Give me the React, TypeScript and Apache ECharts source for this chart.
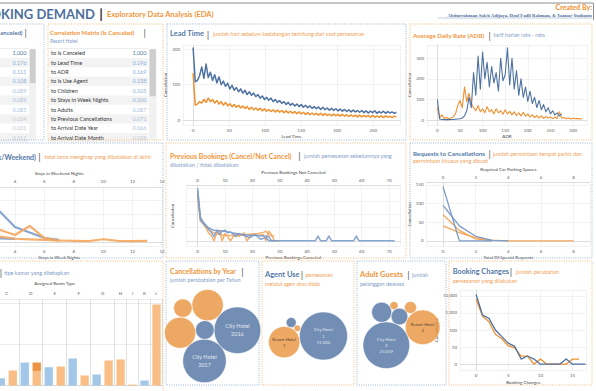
import React, { useEffect, useRef } from "react";
import * as echarts from "echarts";

// ---------------- DATA ----------------
const corrFeatures = [
  "to Is Canceled", "to Lead Time", "to ADR", "to Is Use Agent", "to Children",
  "to Stays in Week Nights", "to Adults", "to Previous Cancellations",
  "to Arrival Date Year", "to Arrival Date Month",
];
const corrResort = [1.0, 0.196, 0.169, 0.138, 0.105, 0.1, 0.087, 0.071, 0.066, 0.028];
const corrCity = [1.0, 0.176, 0.111, 0.108, 0.089, 0.089, 0.085, 0.034, 0.031, 0.011];

// Lead time (every 3 days from 0)
const LEAD_STEP = 3;
const leadCity = [205,108,112,125,150,118,158,120,135,112,128,105,122,100,110,95,104,88,98,84,92,80,88,76,84,72,80,70,76,66,72,62,68,58,64,56,62,52,58,50,55,47,52,44,50,42,47,40,45,38,44,36,42,35,40,33,38,32,37,30,36,29,34,28,33,27,32,26,31,25,30,24,29,23,28,23,27,22,27,21,26,20,25,21,26,19,24,20,25,19,24,20,23,19,22];
const leadResort = [132,42,45,52,48,58,50,62,52,58,48,55,45,52,42,50,40,46,38,44,36,42,34,40,33,38,30,36,29,34,28,33,26,32,25,30,24,29,23,28,22,27,21,26,20,25,19,24,18,23,17,22,16,21,15,20,15,19,14,19,13,18,13,17,12,17,12,16,11,16,11,15,10,15,10,14,9,14,9,13,9,13,8,13,8,12,8,12,7,12,8,11,7,11,9];

// ADR (every 5 units from 0)
const ADR_STEP = 5;
const adrCity = [100,5,3,2,2,2,3,3,4,5,6,10,20,45,110,60,230,120,310,150,330,200,280,160,260,180,230,140,300,190,220,350,170,300,150,240,120,200,110,160,90,140,80,110,60,95,50,75,40,60,30,45,25,35,20,30];
const adrResort = [60,10,25,8,12,6,10,15,30,70,95,60,160,90,130,80,60,45,70,40,55,35,65,40,50,30,55,35,45,28,50,30,42,25,40,22,35,20,38,18,30,15,25,12,22,10,20,8,18,10,15,7,14,8,40,10,12,6,10,5,9,6,8,5,7];

// Stays (index = number of nights)
const staysWeekCity = [3.9, 3.4, 2.8, 2.18, 1.09, 0.68, 0.28, 0.14];
const staysWeekResort = [2.0, 1.6, 1.2, 0.87, 0.5, 1.16, 0.28, 0.07];
const staysWeekendCity = [1.4, 0.9, 0.5, 0.26, 0.22];
const staysWeekendResort = [1.2, 0.9, 0.6, 0.38, 0.23, 0.18, 0.14, 0.1, 0.07, 0.06, 0.19, 0.07, 0.05, 0.07];

// Previous bookings [count, cancellations]
const prevCanceledCity = [[0,100],[1,45],[2,36],[3,30],[4,22],[5,16],[6,8],[7,20],[8,12],[9,18],[10,20],[11,15],[12,17],[14,8],[15,14],[17,10],[19,6],[21,12],[23,3],[25,6],[26,0],[30,0],[43,0],[44,9],[45,0],[47,0],[48,9],[49,0],[57,0],[58,9],[59,0],[72,0]];
const prevNotCanceledCity = [[0,95],[1,40],[2,33],[3,28],[4,25],[5,22],[6,20],[8,19],[10,18],[12,16],[14,14],[16,12],[18,11],[20,10],[22,10],[24,9],[26,8],[27,0],[28,0]];
const prevCanceledResort = [[0,88],[1,38],[2,32],[3,25],[4,15],[5,10],[6,0],[7,15],[8,20],[9,0],[10,14],[11,8],[12,0],[14,14],[15,8],[17,15],[18,0],[20,12],[22,10],[24,12],[25,0],[26,18],[27,12],[28,0],[30,0]];
const prevNotCanceledResort = [[0,85],[1,42],[2,35],[3,28],[4,22],[5,18],[6,15],[8,12],[10,10],[12,10],[14,10],[16,11],[18,12],[20,13],[22,14],[24,16],[25,18],[26,12],[27,9],[28,9]];

// Requests (index = count)
const parkingCity = [145, 0, 0, 0];
const parkingResort = [70, 28, 5, 0];
const specialCity = [95, 40, 12, 1, 0];
const specialResort = [40, 22, 8, 2, 0, 0, 0, 0, 0];

// Assigned room type
const roomTypes = ["A", "B", "C", "D", "E", "F", "G", "H", "I", "K", "L"];
const roomCity = [4200, 900, 178, 561, 446, 659, 268, null, null, 122, null];
const roomResort = [3800, 700, 366, 349, 463, 244, 610, 634, 24, null, 1976];
const roomResortTop = [0, 0, 0, 212, 0, 0, 0, 0, 0, 0, 0];

// Cancellations by year
const yearHotel = ["City Hotel", "City Hotel", "City Hotel", "Resort Hotel", "Resort Hotel", "Resort Hotel"];
const yearYear = [2016, 2017, 2015, 2016, 2017, 2015];
const yearCancel = [15400, 13350, 2450, 7000, 6900, 2400];

// Agent use
const agentHotel = ["City Hotel", "Resort Hotel", "Resort Hotel", "City Hotel"];
const agentUse = [0, 0, 1, 1];
const agentCancel = [1350, 590, 13300, 31000];

// Adult guests
const adultHotel = ["City Hotel", "City Hotel", "City Hotel", "Resort Hotel", "Resort Hotel", "Resort Hotel"];
const adultCount = [2, 1, 3, 2, 1, 3];
const adultCancel = [23059, 4240, 2930, 12700, 1520, 680];

// Booking changes (index = number of changes)
const bookCity = [12000, 750, 480, 100, 40, 16, 10, 1, 2, 1, 0, 0, 0, 0, 1, 0, 0, 0];
const bookResort = [6300, 650, 300, 55, 30, 11, 8, 2, 2, 0, 1, 0, 0, 0, 0, 1, 1];

// ---------------- STYLE ----------------
const OX = 60; // the dashboard continues left of the visible window
const FONT = "Lato, 'Open Sans', 'DejaVu Sans', sans-serif";
const BLUE = "#4e79a7";
const ORANGE = "#f28e2b";
const TITLE_BLUE = "#5377a6";
const TITLE_ORANGE = "#f0953a";
const SOFT_BLUE = "#7b9cca";
const SOFT_ORANGE = "#f4a75e";
const BUBBLE_BLUE = "#4f72a1";
const BUBBLE_ORANGE = "#e8933d";
const BORDER_BLUE = "#9db5d6";
const BORDER_ORANGE = "#f5bb80";
const SUB_BLUE = "#7f9dc6";
const SUB_ORANGE = "#f2a055";

const AXL = { fontSize: 4.5, color: "#666", fontFamily: FONT };
const AXN = { fontSize: 4.5, color: "#444", fontFamily: FONT };

const ROOM_LEFT = -53.1;
const ROOM_WIDTH = 215.6;

function txt(x: number, y: number, text: string, size: number, fill: string, o: any = {}) {
  const align = o.align || "left";
  return {
    type: "text", x, y, silent: true, z: o.z ?? 10,
    style: {
      text, fontSize: size, fill, fontFamily: o.family || FONT, fontWeight: o.weight || "normal",
      textAlign: align, align, textVerticalAlign: "middle", verticalAlign: "middle",
    },
  };
}
function rect(x: number, y: number, w: number, h: number, style: any, z = 1) {
  return { type: "rect", silent: true, z, shape: { x, y, width: w, height: h }, style };
}
function line(x1: number, y1: number, x2: number, y2: number, stroke: string, w = 1, z = 5) {
  return { type: "line", silent: true, z, shape: { x1, y1, x2, y2 }, style: { stroke, lineWidth: w } };
}
function panel(x: number, y: number, w: number, h: number, color: string) {
  return rect(x, y, w, h, { fill: "none", stroke: color, lineWidth: 1, lineDash: [1, 1.3] }, 2);
}

function valAxis(gridIndex: number, o: any) {
  return {
    type: "value", gridIndex, nameLocation: "middle", nameTextStyle: AXN,
    axisLine: { show: true, lineStyle: { color: "#d4d4d4", width: 0.7 } },
    axisTick: { show: false },
    splitLine: { show: true, lineStyle: { color: "#ececec", width: 0.7 } },
    axisLabel: { ...AXL, margin: 3, showMinLabel: o.showMin ?? false, showMaxLabel: o.showMax ?? false, show: o.labels ?? true, formatter: o.formatter },
    ...o.rest,
  };
}

function lineSeries(xi: number, yi: number, data: any[], color: string, width: number, opacity = 1) {
  return {
    type: "line", xAxisIndex: xi, yAxisIndex: yi, data, symbol: "none", silent: true, z: 3,
    lineStyle: { color, width, opacity, join: "round" }, itemStyle: { color },
  };
}

// simple greedy circle packing in input order
function packCircles(radii: number[], angle0Deg: number) {
  const pts: { x: number; y: number }[] = [];
  const a0 = (angle0Deg * Math.PI) / 180;
  for (let k = 0; k < radii.length; k++) {
    const r = radii[k];
    if (k === 0) { pts.push({ x: 0, y: 0 }); continue; }
    if (k === 1) { const d = radii[0] + r; pts.push({ x: d * Math.cos(a0), y: d * Math.sin(a0) }); continue; }
    let cx = 0, cy = 0;
    pts.forEach((p) => { cx += p.x; cy += p.y; });
    cx /= pts.length; cy /= pts.length;
    let best: any = null, bestD = Infinity;
    for (let i = 0; i < k; i++) for (let j = i + 1; j < k; j++) {
      const a = pts[i], b = pts[j];
      const ra = radii[i] + r, rb = radii[j] + r;
      const dx = b.x - a.x, dy = b.y - a.y, d = Math.hypot(dx, dy);
      if (d === 0 || d > ra + rb || d < Math.abs(ra - rb)) continue;
      const l = (ra * ra - rb * rb + d * d) / (2 * d);
      const h = Math.sqrt(Math.max(0, ra * ra - l * l));
      const mx = a.x + (l * dx) / d, my = a.y + (l * dy) / d;
      for (const s of [1, -1]) {
        const px = mx - (s * h * dy) / d, py = my + (s * h * dx) / d;
        let ok = true;
        for (let m = 0; m < k; m++) {
          if (Math.hypot(px - pts[m].x, py - pts[m].y) < radii[m] + r - 0.01) { ok = false; break; }
        }
        if (!ok) continue;
        const dd = Math.hypot(px - cx, py - cy);
        if (dd < bestD - 1e-6) { bestD = dd; best = { x: px, y: py }; }
      }
    }
    if (!best) best = { x: -(radii[0] + r), y: 0 };
    pts.push(best);
  }
  return pts;
}

function bubbleSeries(hotels: string[], values: number[], labelOf: (i: number) => string, lay: any) {
  const vmax = Math.max(...values);
  const radii = values.map((v) => lay.rMax * Math.sqrt(v / vmax));
  const rot = ((lay.rot || 0) * Math.PI) / 180;
  const pts = packCircles(radii, lay.angle).map((p) => ({
    x: p.x * Math.cos(rot) - p.y * Math.sin(rot),
    y: p.x * Math.sin(rot) + p.y * Math.cos(rot),
  }));
  let x0 = Infinity, x1 = -Infinity, y0 = Infinity, y1 = -Infinity;
  pts.forEach((p, i) => {
    x0 = Math.min(x0, p.x - radii[i]); x1 = Math.max(x1, p.x + radii[i]);
    y0 = Math.min(y0, p.y - radii[i]); y1 = Math.max(y1, p.y + radii[i]);
  });
  const ox = lay.cx - (x0 + x1) / 2, oy = lay.cy - (y0 + y1) / 2;
  return {
    type: "scatter", xAxisIndex: 10, yAxisIndex: 7, silent: true, z: 4,
    data: pts.map((p, i) => {
      const city = hotels[i] === "City Hotel";
      return {
        value: [p.x + ox, p.y + oy],
        symbolSize: radii[i] * 2,
        itemStyle: { color: city ? BUBBLE_BLUE : BUBBLE_ORANGE, borderColor: "#fff", borderWidth: 0.6 },
        label: {
          show: radii[i] > lay.labelMin, position: "inside", formatter: labelOf(i),
          color: city ? "#fff" : "#222", fontSize: lay.fs, lineHeight: lay.fs * 1.45, fontFamily: FONT,
        },
      };
    }),
  };
}

function buildOption() {
  const fmt = (v: number) => v.toLocaleString("en-US");
  const symlog = (v: number) => Math.log10(v + 1);

  // room slots
  const slots: any[] = [];
  roomTypes.forEach((t, i) => {
    const parts: any[] = [];
    if (roomCity[i] != null) parts.push({ city: roomCity[i], resort: null, top: null });
    if (roomResort[i] != null) parts.push({ city: null, resort: roomResort[i], top: roomResortTop[i] || null });
    parts.forEach((p, k) => slots.push({ type: t, ...p, first: k === 0, size: parts.length }));
  });
  const slotW = ROOM_WIDTH / slots.length;
  const slotVisible = (i: number) => ROOM_LEFT + (i + 0.5) * slotW > 0;

  const g: any[] = [];
  g.push(line(0, 3, 593.5, 3, "#8e8e8e", 1.2));
  g.push(line(593.5, 3, 593.5, 20, "#8e8e8e", 1));
  g.push(txt(95, 13.5, "HOTEL BOOKING DEMAND", 13, "#4f6f9c", { align: "right", weight: "bold" }));
  g.push(txt(101, 13.5, "|", 14, "#333", { align: "center", weight: "bold" }));
  g.push(txt(107, 14.5, "Exploratory Data Analysis (EDA)", 7.5, TITLE_ORANGE, { weight: "bold" }));
  g.push(txt(592, 7, "Created By:", 7, ORANGE, { align: "right", weight: "bold" }));
  g.push(txt(592, 15.5, "Abdurrahman Saleh Adijaya, Dzul Fadli Rahman, & Yanuar Yudianto", 4.8, "#4f6f9c", { align: "right", weight: "bold", family: "'Liberation Serif', 'DejaVu Serif', serif" }));
  g.push(line(438, 18, 592, 18, "#7f95b5", 0.5));

  g.push(panel(-5, 24, 49, 116, BORDER_BLUE));
  g.push(panel(48, 24, 115, 116, BORDER_ORANGE));
  g.push(panel(167, 24, 239, 116, BORDER_BLUE));
  g.push(panel(410, 24, 182, 116, BORDER_ORANGE));
  g.push(panel(-5, 143, 168, 115, BORDER_BLUE));
  g.push(panel(166, 143, 240, 115, BORDER_ORANGE));
  g.push(panel(410, 143, 182, 115, BORDER_BLUE));
  g.push(panel(-5, 261, 168, 140, BORDER_ORANGE));
  g.push(panel(166, 261, 93, 124, BORDER_BLUE));
  g.push(panel(262, 261, 92, 124, BORDER_ORANGE));
  g.push(panel(357, 261, 89, 124, BORDER_BLUE));
  g.push(panel(449, 261, 143, 124, BORDER_ORANGE));

  const rowY = (i: number) => 53.3 + i * 9.37;
  const corrColor = (v: number) => (v >= 0.999 ? BLUE : v >= 0.1 ? "#8eb0d9" : v >= 0.05 ? "#a9bfdc" : "#c3cad5");
  corrFeatures.forEach((f, i) => {
    const y = rowY(i);
    if (i % 2 === 1) {
      g.push(rect(-5, y - 4.68, 34, 9.36, { fill: "#f3f3f3" }));
      g.push(rect(48.5, y - 4.68, 100, 9.36, { fill: "#f3f3f3" }));
    }
    g.push(txt(51, y, f, 5.5, "#333"));
    g.push(txt(146.5, y, corrResort[i].toFixed(3), 5.5, corrColor(corrResort[i]), { align: "right" }));
    g.push(txt(26.5, y, corrCity[i].toFixed(3), 5.5, corrColor(corrCity[i]), { align: "right" }));
  });
  g.push(line(-5, 48.6, 29, 48.6, "#dedede", 0.6));
  g.push(line(48.5, 48.6, 148.5, 48.6, "#dedede", 0.6));
  g.push(rect(149, 48.6, 7.5, 91, { fill: "#f1f1f1" }));
  g.push(rect(149.6, 49.2, 6.3, 47, { fill: "#cdcdcd" }, 2));
  g.push(rect(29.2, 48.6, 7, 91, { fill: "#f1f1f1" }));
  g.push(rect(29.8, 49.2, 5.8, 34, { fill: "#cdcdcd" }, 2));

  g.push(txt(22.5, 32, "Correlation Matrix (Is Canceled)", 6, TITLE_BLUE, { align: "right", weight: "bold" }));
  g.push(txt(25.5, 32, "|", 9, "#555", { align: "center" }));
  g.push(txt(50, 32, "Correlation Matrix (Is Canceled)", 6, TITLE_ORANGE, { weight: "bold" }));
  g.push(txt(144.5, 32, "|", 9, "#555", { align: "center" }));
  g.push(txt(50, 40.5, "Resort Hotel", 5, SUB_BLUE));

  g.push(txt(170, 33.5, "Lead Time", 7.5, TITLE_BLUE, { weight: "bold" }));
  g.push(txt(208, 33.5, "|", 10, "#555", { align: "center" }));
  g.push(txt(213, 34, "jumlah hari sebelum kedatangan terhitung dari saat pemesanan", 5.5, SUB_ORANGE));

  g.push(txt(413, 35, "Average Daily Rate (ADR)", 6.3, TITLE_ORANGE, { weight: "bold" }));
  g.push(txt(489.5, 35, "|", 9, "#555", { align: "center" }));
  g.push(txt(493.5, 35.3, "tarif harian rata - rata", 5.5, SUB_BLUE));

  g.push(txt(36, 156.7, "Stays in Nights (Week/Weekend)", 7, TITLE_BLUE, { align: "right", weight: "bold" }));
  g.push(txt(39.5, 156.7, "|", 9.5, "#555", { align: "center" }));
  g.push(txt(44.5, 157, "total lama menginap yang dibatalkan di akhir", 5.5, SUB_ORANGE));

  g.push(txt(170, 155.7, "Previous Bookings (Cancel/Not Cancel)", 7, TITLE_ORANGE, { weight: "bold" }));
  g.push(txt(299.5, 155.7, "|", 9.5, "#555", { align: "center" }));
  g.push(txt(304, 156, "jumlah pemesanan sebelumnya yang", 5.5, SUB_BLUE));
  g.push(txt(170, 165, "dibatalkan / tidak dibatalkan", 5.5, SUB_BLUE));

  g.push(txt(413, 153.3, "Requests to Cancellations", 6.3, TITLE_BLUE, { weight: "bold" }));
  g.push(txt(489.5, 153.3, "|", 9, "#555", { align: "center" }));
  g.push(txt(493, 153.6, "jumlah permintaan tempat parkir dan", 5.5, SUB_ORANGE));
  g.push(txt(413, 160.9, "permintaan khusus yang dibuat", 5.5, SUB_ORANGE));

  g.push(txt(1, 272.3, "|", 9.5, "#555", { align: "center" }));
  g.push(txt(4, 272.5, "tipe kamar yang ditetapkan", 5.5, SUB_BLUE));

  g.push(txt(170, 271, "Cancellations by Year", 7, TITLE_ORANGE, { weight: "bold" }));
  g.push(txt(242.5, 271, "|", 9.5, "#555", { align: "center" }));
  g.push(txt(170, 280, "jumlah pembatalan per Tahun", 5.5, SUB_BLUE));

  g.push(txt(265, 274.3, "Agent Use", 7.5, TITLE_BLUE, { weight: "bold" }));
  g.push(txt(302, 274.3, "|", 9.5, "#555", { align: "center" }));
  g.push(txt(305.5, 274.6, "pemesanan", 5.5, SUB_ORANGE));
  g.push(txt(265, 284.3, "melalui agen atau tidak", 5.5, SUB_ORANGE));

  g.push(txt(360, 274.3, "Adult Guests", 7.5, TITLE_ORANGE, { weight: "bold" }));
  g.push(txt(408.5, 274.3, "|", 9.5, "#555", { align: "center" }));
  g.push(txt(412, 274.6, "jumlah", 5.5, SUB_BLUE));
  g.push(txt(360, 284.3, "pelanggan dewasa", 5.5, SUB_BLUE));

  g.push(txt(452.7, 271.7, "Booking Changes", 7.3, TITLE_BLUE, { weight: "bold" }));
  g.push(txt(511, 271.7, "|", 9.5, "#555", { align: "center" }));
  g.push(txt(516, 272, "jumlah perubahan", 5.5, SUB_ORANGE));
  g.push(txt(452.7, 281, "pemesanan yang dilakukan", 5.5, SUB_ORANGE));

  const staysFmt = (v: number) => (v < 3 ? "" : String(v));
  const xAxis: any[] = [
    valAxis(0, { rest: { min: -14, max: 287, minInterval: 50, maxInterval: 50, name: "Lead Time", nameGap: 9 } }),
    valAxis(1, { rest: { min: -23, max: 331, minInterval: 50, maxInterval: 50, name: "ADR", nameGap: 9 } }),
    valAxis(2, { showMin: true, showMax: true, formatter: staysFmt, rest: { min: 0, max: 14, interval: 2, position: "bottom", name: "Stays in Week Nights", nameGap: 8.5 } }),
    valAxis(2, { showMin: true, showMax: true, formatter: staysFmt, rest: { min: 0, max: 14, interval: 2, position: "top", name: "Stays in Weekend Nights", nameGap: 11, splitLine: { show: false } } }),
    valAxis(3, { rest: { min: -4, max: 74, minInterval: 10, maxInterval: 10, position: "bottom", name: "Previous Bookings Canceled", nameGap: 8.5 } }),
    valAxis(3, { rest: { min: -4, max: 74, minInterval: 10, maxInterval: 10, position: "top", name: "Previous Bookings Not Canceled", nameGap: 10.5, splitLine: { show: false } } }),
    valAxis(4, { rest: { min: -1, max: 9, minInterval: 2, maxInterval: 2, position: "bottom", name: "Total Of Special Requests", nameGap: 9 } }),
    valAxis(4, { rest: { min: -1, max: 9, minInterval: 2, maxInterval: 2, position: "top", name: "Required Car Parking Spaces", nameGap: 10.5, splitLine: { show: false } } }),
    {
      type: "category", gridIndex: 5, position: "top", data: slots.map((s) => s.type),
      name: "Assigned Room Type", nameLocation: "middle", nameGap: 13.5, nameTextStyle: AXN,
      axisLine: { show: true, lineStyle: { color: "#cfcfcf", width: 0.7 } }, axisTick: { show: false },
      axisLabel: {
        interval: 0, margin: 3,
        formatter: (v: string, i: number) => (slots[i] && slots[i].first && slotVisible(i) ? (slots[i].size === 2 ? `{w|${v}}` : `{n|${v}}`) : ""),
        rich: { w: { ...AXL, padding: [0, 0, 0, 12] }, n: { ...AXL } },
      },
      splitLine: { show: true, interval: (i: number) => !!(slots[i] && slots[i].first && i > 0), lineStyle: { color: "#d9d9d9", width: 0.8 } },
    },
    valAxis(6, { rest: { min: -2.5, max: 17.2, minInterval: 5, maxInterval: 5, name: "Booking Changes", nameGap: 9.5 } }),
    { type: "value", gridIndex: 7, min: -OX, max: 596, show: false },
  ];
  const yAxis: any[] = [
    valAxis(0, { rest: { min: -14, max: 212, minInterval: 100, maxInterval: 100, name: "Cancellation", nameGap: 11, nameRotate: 90 } }),
    valAxis(1, { rest: { min: -24, max: 364, minInterval: 100, maxInterval: 100, name: "Cancellation", nameGap: 11, nameRotate: 90 } }),
    valAxis(2, { labels: false, rest: { min: -0.3, max: 4, minInterval: 1, maxInterval: 1 } }),
    valAxis(3, { labels: false, rest: { min: -10, max: 105, minInterval: 25, maxInterval: 25, name: "Cancellation", nameGap: 12, nameRotate: 90 } }),
    valAxis(4, { rest: { min: -14, max: 156, minInterval: 50, maxInterval: 50, name: "Cancellation", nameGap: 11, nameRotate: 90 } }),
    valAxis(5, { labels: false, rest: { min: 0, max: 2110, minInterval: 1000, maxInterval: 1000, axisLine: { show: false }, splitLine: { show: true, lineStyle: { color: "#e4e4e4", width: 0.7 } } } }),
    valAxis(6, {
      formatter: (t: number) => (Math.abs(t) < 1e-9 ? "0" : fmt(Math.round(Math.pow(10, t)))),
      rest: { min: -0.34, max: 4.34, minInterval: 1, maxInterval: 1, name: "Cancellation", nameGap: 13, nameRotate: 90 },
    }),
    { type: "value", gridIndex: 7, min: 0, max: 391, inverse: true, show: false },
  ];

  const series: any[] = [
    lineSeries(0, 0, leadResort.map((v, i) => [i * LEAD_STEP, v]), "#f0902f", 1.5),
    lineSeries(0, 0, leadCity.map((v, i) => [i * LEAD_STEP, v]), "#4e72a2", 1.5),
    lineSeries(1, 1, adrResort.map((v, i) => [i * ADR_STEP, v]), "#f0902f", 1.1),
    lineSeries(1, 1, adrCity.map((v, i) => [i * ADR_STEP, v]), "#4e72a2", 1.1),
    lineSeries(2, 2, staysWeekCity.map((v, i) => [i, v]), SOFT_BLUE, 2.2, 0.9),
    lineSeries(2, 2, staysWeekResort.map((v, i) => [i, v]), SOFT_ORANGE, 2.2, 0.9),
    lineSeries(3, 2, staysWeekendCity.map((v, i) => [i, v]), SOFT_BLUE, 2.2, 0.9),
    lineSeries(3, 2, staysWeekendResort.map((v, i) => [i, v]), SOFT_ORANGE, 2.2, 0.9),
    lineSeries(4, 3, prevCanceledResort, SOFT_ORANGE, 1.5, 0.9),
    lineSeries(5, 3, prevNotCanceledResort, SOFT_ORANGE, 1.5, 0.9),
    lineSeries(5, 3, prevNotCanceledCity, SOFT_BLUE, 1.5, 0.9),
    lineSeries(4, 3, prevCanceledCity, SOFT_BLUE, 1.5, 0.9),
    lineSeries(7, 4, parkingResort.map((v, i) => [i, v]), SOFT_ORANGE, 1.3),
    lineSeries(6, 4, specialResort.map((v, i) => [i, v]), SOFT_ORANGE, 1.3),
    lineSeries(7, 4, parkingCity.map((v, i) => [i, v]), SOFT_BLUE, 1.3),
    lineSeries(6, 4, specialCity.map((v, i) => [i, v]), SOFT_BLUE, 1.3),
    {
      type: "bar", xAxisIndex: 8, yAxisIndex: 5, barWidth: 8.3, barGap: "-100%", silent: true, z: 3,
      itemStyle: { color: "#a3c7e8" }, data: slots.map((s) => s.city),
    },
    {
      type: "bar", xAxisIndex: 8, yAxisIndex: 5, barWidth: 8.3, barGap: "-100%", stack: "resort", silent: true, z: 3,
      itemStyle: { color: "#f8be86" }, data: slots.map((s) => s.resort),
    },
    {
      type: "bar", xAxisIndex: 8, yAxisIndex: 5, barWidth: 8.3, barGap: "-100%", stack: "resort", silent: true, z: 3,
      itemStyle: { color: "#ec9441" }, data: slots.map((s) => s.top),
    },
    lineSeries(9, 6, bookResort.map((v, i) => [i, symlog(v)]), "#f0902f", 1.3),
    lineSeries(9, 6, bookCity.map((v, i) => [i, symlog(v)]), "#4e72a2", 1.3),
    bubbleSeries(yearHotel, yearCancel, (i) => `${yearHotel[i]}\n${yearYear[i]}`, { cx: 212.6, cy: 336, rMax: 23.3, angle: 137, rot: 0, fs: 5.5, labelMin: 18 }),
    bubbleSeries(agentHotel, agentCancel, (i) => (agentHotel[i] === "City Hotel" ? `${agentHotel[i]}\n${agentUse[i]}\n${fmt(agentCancel[i])}` : `${agentHotel[i]}\n${agentUse[i]}`), { cx: 308, cy: 336, rMax: 24, angle: 81, rot: -38, fs: 4.3, labelMin: 14 }),
    bubbleSeries(adultHotel, adultCancel, (i) => (adultHotel[i] === "City Hotel" ? `${adultHotel[i]}\n${adultCount[i]}\n${fmt(adultCancel[i])}` : `${adultHotel[i]}\n${adultCount[i]}`), { cx: 401.5, cy: 335, rMax: 23.3, angle: -73, rot: -25, fs: 4.3, labelMin: 14 }),
  ];

  const grids: any[] = [
    [183, 45, 217, 80],
    [427, 45, 160, 80],
    [-43.8, 187, 205.8, 59],
    [186.7, 185.7, 213.3, 60.3],
    [426.7, 182.7, 163.3, 63.3],
    [ROOM_LEFT, 299, ROOM_WIDTH, 86.5],
    [460, 290, 126.7, 80],
  ].map(([l, t, w, h]) => ({ left: l + OX, top: t, width: w, height: h }));
  grids.push({ left: 0, top: 0, width: 596 + OX, height: 391 });

  return {
    animation: false,
    backgroundColor: "#ffffff",
    textStyle: { fontFamily: FONT },
    grid: grids,
    xAxis, yAxis, series,
    graphic: { elements: [{ type: "group", x: OX, y: 0, children: g }] },
  };
}

export default function App() {
  const ref = useRef<HTMLDivElement>(null);
  useEffect(() => {
    if (!ref.current) return;
    const chart = echarts.init(ref.current, null, { renderer: "svg", width: 596 + OX, height: 391 });
    chart.setOption(buildOption() as any);
    return () => chart.dispose();
  }, []);
  return <div ref={ref} style={{ position: "fixed", left: -OX, top: 0, width: 596 + OX, height: 391, background: "#fff" }} />;
}
